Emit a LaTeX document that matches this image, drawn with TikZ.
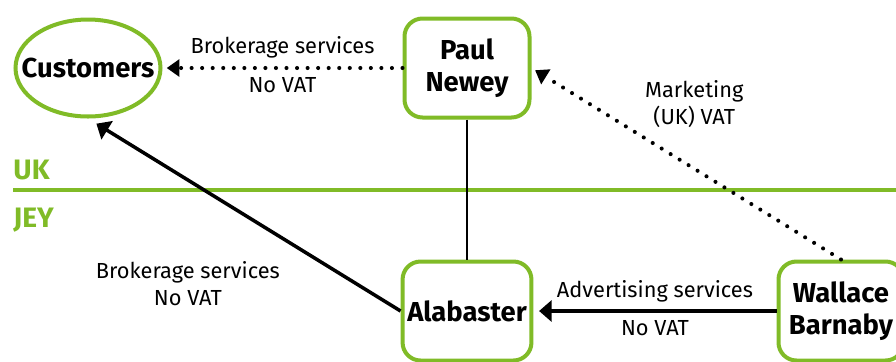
\documentclass[tikz,border=0pt]{standalone}
\usepackage{fontspec}
\setmainfont{Fira Sans}
\usetikzlibrary{arrows.meta, shapes.geometric}
\definecolor{jgreen}{RGB}{128,187,39}

\begin{document}
\begin{tikzpicture}[
    party/.style={draw=jgreen, line width=2.85pt, rounded corners=0.45cm, minimum width=3.125cm, minimum height=2.475cm, align=center, font=\fontsize{19.5}{22.5}\selectfont\bfseries},
    client/.style={draw=jgreen, line width=2.85pt, ellipse, minimum width=3.625cm, minimum height=2.425cm, inner xsep=-13pt, inner ysep=0pt, font=\fontsize{19.5}{22.5}\selectfont\bfseries},
    flowlabel/.style={align=center, font=\fontsize{15.5}{19}\selectfont},
    region/.style={text=jgreen, font=\fontsize{20}{24}\selectfont\bfseries, inner sep=0pt},
    dotflow/.style={line width=2.9pt, line cap=round, dash pattern=on 0pt off 7.5pt, -{Triangle[length=9pt, width=12pt]}, shorten >=3pt},
    solidflow/.style={line width=2.5pt, -{Triangle[length=9pt, width=15pt]}, shorten >=4pt}
  ]
    \useasboundingbox (0,0) rectangle (22.4,-9.025);

    \node[client]  (C)  at ( 2.2,  -1.7)    {Customers};
    \node[party]   (PN) at (11.675, -1.7)   {Paul \\ Newey};
    \node[party]   (A)  at (11.675, -7.775) {Alabaster};
    \node[party]   (WB) at (21.025, -7.775) {Wallace \\ Barnaby};

    % border between UK and Jersey
    \draw[jgreen, line width=3.5pt] (0.325,-4.75) -- (22.4,-4.75);
    \node[region, anchor=base west] (UK)  at (0.33,-4.475) {UK};
    \node[region, anchor=base west] (JEY) at (0.33,-5.675) {JEY};

    \draw[line width=1.4pt] (PN) -- (A);

    \draw[dotflow] (PN) -- (C)
        node[flowlabel, midway, above=2pt] {Brokerage services}
        node[flowlabel, midway, below=2pt] {No VAT};
    \draw[dotflow] (WB.north) -- (PN.east)
        node[flowlabel, midway, xshift=0.2cm, yshift=1.5cm] {Marketing \\ (UK) VAT};
    \draw[solidflow, shorten >=7pt] (A.west) -- (C.south)
        node[flowlabel, midway, xshift=-1.41cm, yshift=-1.725cm] {Brokerage services \\ No VAT};
    \draw[solidflow] (WB) -- (A)
        node[flowlabel, midway, above=2pt] {Advertising services}
        node[flowlabel, midway, below=2pt] {No VAT};
  \end{tikzpicture}
\end{document}
